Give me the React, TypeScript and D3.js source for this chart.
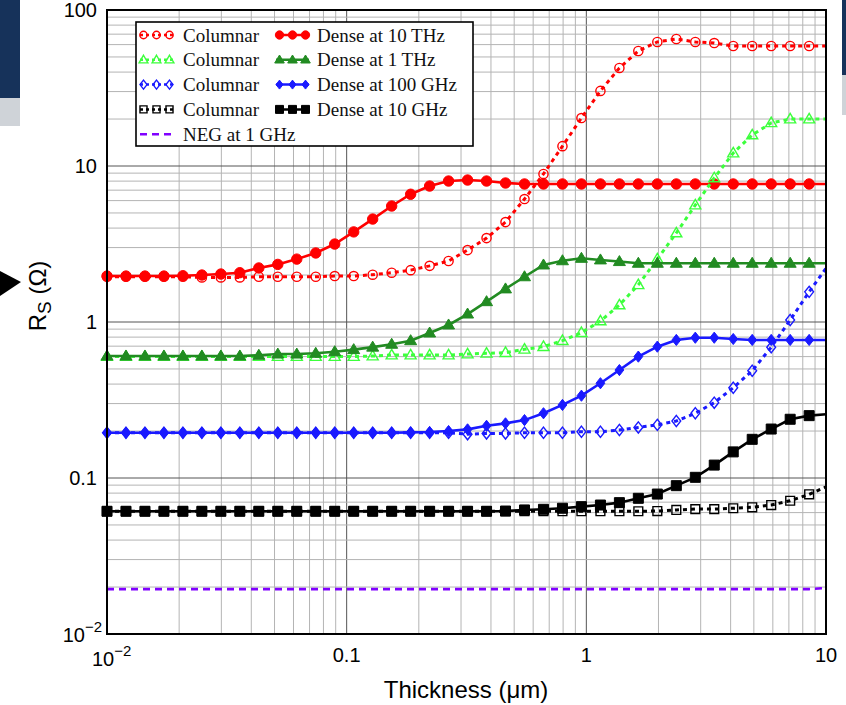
import React, { useEffect, useRef } from "react";
import * as d3 from "d3";

// thickness grid (um) of the computed points; last point has no marker
const thickness = [
  0.01, 0.012, 0.0144, 0.01728, 0.02074, 0.02488, 0.02986, 0.03583, 0.043, 0.0516,
  0.06192, 0.0743, 0.08916, 0.107, 0.1284, 0.1541, 0.1849, 0.2219, 0.2662, 0.3195,
  0.3834, 0.46, 0.5521, 0.6625, 0.795, 0.954, 1.145, 1.374, 1.648, 1.978,
  2.374, 2.849, 3.418, 4.102, 4.922, 5.907, 7.088, 8.506, 10,
];

const dense10THz = [
  1.97, 1.97, 1.97, 1.97, 1.98, 2.0, 2.03, 2.07, 2.22, 2.34,
  2.53, 2.77, 3.16, 3.78, 4.57, 5.54, 6.59, 7.44, 8.01, 8.13,
  8.01, 7.78, 7.67, 7.67, 7.67, 7.67, 7.67, 7.67, 7.67, 7.67,
  7.67, 7.67, 7.67, 7.67, 7.67, 7.67, 7.67, 7.67, 7.67,
];
const columnar10THz = [
  1.95, 1.95, 1.95, 1.95, 1.95, 1.93, 1.93, 1.93, 1.95, 1.95,
  1.95, 1.95, 1.97, 1.97, 2.01, 2.07, 2.15, 2.29, 2.46, 2.89,
  3.45, 4.37, 6.14, 8.89, 13.4, 20.3, 30.3, 42.5, 54.6, 62.4,
  65.2, 62.4, 61.4, 58.8, 58.8, 58.8, 58.8, 58.8, 58.8,
];
const dense1THz = [
  0.605, 0.605, 0.605, 0.605, 0.605, 0.605, 0.605, 0.605, 0.612, 0.623,
  0.623, 0.63, 0.645, 0.665, 0.69, 0.72, 0.759, 0.85, 0.957, 1.125,
  1.35, 1.63, 1.95, 2.32, 2.47, 2.56, 2.5, 2.44, 2.38, 2.38,
  2.38, 2.38, 2.38, 2.38, 2.38, 2.38, 2.38, 2.38, 2.38,
];
const columnar1THz = [
  0.6, 0.6, 0.6, 0.6, 0.6, 0.6, 0.6, 0.6, 0.6, 0.6,
  0.6, 0.6, 0.6, 0.6, 0.605, 0.614, 0.614, 0.614, 0.614, 0.623,
  0.63, 0.636, 0.668, 0.695, 0.759, 0.854, 1.015, 1.285, 1.73, 2.53,
  3.72, 5.62, 8.38, 12.1, 15.8, 18.9, 20.0, 20.0, 20.0,
];
const dense100GHz = [
  0.195, 0.195, 0.195, 0.195, 0.195, 0.195, 0.195, 0.195, 0.195, 0.195,
  0.195, 0.195, 0.195, 0.195, 0.195, 0.195, 0.196, 0.197, 0.2, 0.205,
  0.216, 0.224, 0.235, 0.26, 0.294, 0.337, 0.405, 0.492, 0.6, 0.695,
  0.767, 0.793, 0.793, 0.778, 0.767, 0.767, 0.767, 0.767, 0.767,
];
const columnar100GHz = [
  0.195, 0.195, 0.195, 0.195, 0.195, 0.195, 0.195, 0.195, 0.195, 0.195,
  0.195, 0.195, 0.195, 0.195, 0.195, 0.195, 0.195, 0.195, 0.195, 0.191,
  0.193, 0.193, 0.195, 0.195, 0.195, 0.198, 0.198, 0.203, 0.211, 0.219,
  0.232, 0.26, 0.304, 0.379, 0.487, 0.689, 1.03, 1.56, 2.21,
];
const dense10GHz = [
  0.0612, 0.0612, 0.0612, 0.0612, 0.0612, 0.0612, 0.0612, 0.0612, 0.0612, 0.0612,
  0.0612, 0.0612, 0.0612, 0.0612, 0.0612, 0.0612, 0.0612, 0.0612, 0.0612, 0.0612,
  0.0612, 0.0614, 0.0624, 0.063, 0.064, 0.0655, 0.0671, 0.0695, 0.0741, 0.0789,
  0.0893, 0.101, 0.121, 0.147, 0.177, 0.206, 0.238, 0.251, 0.256,
];
const columnar10GHz = [
  0.0612, 0.0612, 0.0612, 0.0612, 0.0612, 0.0612, 0.0612, 0.0612, 0.0612, 0.0612,
  0.0612, 0.0612, 0.0612, 0.0612, 0.0612, 0.0612, 0.0612, 0.0612, 0.0612, 0.0612,
  0.0612, 0.0612, 0.0612, 0.0612, 0.0612, 0.0612, 0.0612, 0.0612, 0.0612, 0.0614,
  0.0624, 0.0632, 0.0632, 0.064, 0.0649, 0.0671, 0.0715, 0.0786, 0.0876,
];
const negThickness = [0.01, 8.506, 10];
const neg1GHz = [0.0194, 0.0194, 0.0197];

const yTickLabels = ["100", "10", "1", "0.1"];
const xTickLabels = ["0.1", "1", "10"];

const series = [
  { name: "Columnar", values: columnar10THz, color: "#ff0000", marker: "circle", open: true },
  { name: "Dense at 10 THz", values: dense10THz, color: "#ff0000", marker: "circle", open: false },
  { name: "Columnar", values: columnar1THz, color: "#3cff3c", marker: "triangle", open: true },
  { name: "Dense at 1 THz", values: dense1THz, color: "#228b22", marker: "triangle", open: false },
  { name: "Columnar", values: columnar100GHz, color: "#1a1aff", marker: "diamond", open: true },
  { name: "Dense at 100 GHz", values: dense100GHz, color: "#1a1aff", marker: "diamond", open: false },
  { name: "Columnar", values: columnar10GHz, color: "#000000", marker: "square", open: true },
  { name: "Dense at 10 GHz", values: dense10GHz, color: "#000000", marker: "square", open: false },
];

const W = 846;
const H = 705;

// draws one marker into a selection
const addMarker = (g, kind, cx, cy, color, open, s = 1) => {
  const fill = open ? "none" : color;
  const sw = open ? 1.4 : 1;
  if (kind === "circle") {
    g.append("circle").attr("cx", cx).attr("cy", cy).attr("r", (open ? 4.6 : 5.2) * s)
      .attr("fill", fill).attr("stroke", color).attr("stroke-width", sw);
    return;
  }
  let pts;
  if (kind === "triangle") {
    const w = (open ? 11 : 12) * s, h = (open ? 9.5 : 10) * s;
    pts = [[cx, cy - h * 0.6], [cx + w / 2, cy + h * 0.4], [cx - w / 2, cy + h * 0.4]];
  } else if (kind === "diamond") {
    const w = 4.4 * s, h = 5.6 * s;
    pts = [[cx, cy - h], [cx + w, cy], [cx, cy + h], [cx - w, cy]];
  } else {
    const a = (open ? 4.4 : 5) * s;
    pts = [[cx - a, cy - a], [cx + a, cy - a], [cx + a, cy + a], [cx - a, cy + a]];
  }
  g.append("polygon").attr("points", pts.map((p) => p.join(",")).join(" "))
    .attr("fill", fill).attr("stroke", color).attr("stroke-width", sw)
    .attr("stroke-linejoin", "miter");
};

const ThicknessChart = () => {
  const svgRef = useRef(null);

  useEffect(() => {
    const svg = d3.select(svgRef.current);
    svg.selectAll("*").remove();

    const x = d3.scaleLog().domain([0.01, 10]).range([107, 826]);
    const y = d3.scaleLog().domain([0.01, 100]).range([634, 10]);

    // slide background bits around the figure
    svg.append("rect").attr("x", 0).attr("y", 0).attr("width", 20).attr("height", 98).attr("fill", "#16325a");
    svg.append("rect").attr("x", 0).attr("y", 98).attr("width", 20).attr("height", 28).attr("fill", "#cfd3d8");
    svg.append("rect").attr("x", 842).attr("y", 0).attr("width", 4).attr("height", 75).attr("fill", "#16325a");
    svg.append("rect").attr("x", 842).attr("y", 75).attr("width", 4).attr("height", 40).attr("fill", "#cfd3d8");
    svg.append("path").attr("d", "M0,271L21,282L0,296Z").attr("fill", "#000");

    // grid
    const isMajor = (v) => Math.abs(Math.log10(v) - Math.round(Math.log10(v))) < 1e-6;
    const grid = svg.append("g");
    x.ticks().forEach((t) => {
      grid.append("line").attr("x1", x(t)).attr("x2", x(t)).attr("y1", 10).attr("y2", 634)
        .attr("stroke", isMajor(t) ? "#555" : "#b4b4b4").attr("stroke-width", 1);
    });
    y.ticks().forEach((t) => {
      grid.append("line").attr("x1", 107).attr("x2", 826).attr("y1", y(t)).attr("y2", y(t))
        .attr("stroke", isMajor(t) ? "#555" : "#b4b4b4").attr("stroke-width", 1);
    });

    const line = d3.line().x((d) => x(d[0])).y((d) => y(d[1]));

    series.forEach((s) => {
      const pts = thickness.map((t, i) => [t, s.values[i]]);
      const g = svg.append("g");
      g.append("path").attr("d", line(pts)).attr("fill", "none").attr("stroke", s.color)
        .attr("stroke-width", s.open ? 3 : 2.6)
        .attr("stroke-dasharray", s.open ? "4,4" : null);
      pts.slice(0, pts.length - 1).forEach((p) => addMarker(g, s.marker, x(p[0]), y(p[1]), s.color, s.open));
    });

    svg.append("path").attr("d", line(negThickness.map((t, i) => [t, neg1GHz[i]])))
      .attr("fill", "none").attr("stroke", "#8000ff").attr("stroke-width", 2.6)
      .attr("stroke-dasharray", "7,5");

    // frame
    svg.append("rect").attr("x", 107).attr("y", 10).attr("width", 719).attr("height", 624)
      .attr("fill", "none").attr("stroke", "#000").attr("stroke-width", 2);

    // tick labels
    const sans = "'Liberation Sans', Arial, sans-serif";
    const yt = svg.append("g").attr("font-family", sans).attr("font-size", 20).attr("fill", "#000");
    yTickLabels.forEach((l) => {
      yt.append("text").attr("x", 97).attr("y", y(+l)).attr("dy", "0.35em").attr("text-anchor", "end").text(l);
    });
    const ysup = yt.append("text").attr("x", 102).attr("y", 634).attr("dy", "0.4em").attr("text-anchor", "end");
    ysup.append("tspan").text("10");
    ysup.append("tspan").attr("dy", -10).attr("font-size", 15).text("\u22122");

    xTickLabels.forEach((l) => {
      yt.append("text").attr("x", x(+l)).attr("y", 662).attr("text-anchor", "middle").text(l);
    });
    const xsup = yt.append("text").attr("x", 92).attr("y", 666);
    xsup.append("tspan").text("10");
    xsup.append("tspan").attr("dy", -10).attr("font-size", 15).text("\u22122");

    // axis titles
    svg.append("text").attr("x", 466).attr("y", 698).attr("text-anchor", "middle")
      .attr("font-family", sans).attr("font-size", 24).text("Thickness (\u03bcm)");
    const yTitle = svg.append("text").attr("transform", "translate(46,296) rotate(-90)")
      .attr("text-anchor", "middle").attr("font-family", sans).attr("font-size", 24);
    yTitle.append("tspan").text("R");
    yTitle.append("tspan").attr("dy", 5).attr("font-size", 19).text("S");
    yTitle.append("tspan").attr("dy", -5).text(" (\u03a9)");

    // legend
    const lg = svg.append("g");
    lg.append("rect").attr("x", 136).attr("y", 22).attr("width", 337).attr("height", 124)
      .attr("fill", "#fff").attr("stroke", "#000").attr("stroke-width", 1.6);
    const serif = "'Liberation Serif', 'Times New Roman', serif";
    series.forEach((s, i) => {
      const row = Math.floor(i / 2);
      const col = i % 2;
      const cy = 35 + row * 24.8;
      const x0 = col === 0 ? 140 : 276;
      lg.append("line").attr("x1", x0).attr("x2", x0 + 33).attr("y1", cy).attr("y2", cy)
        .attr("stroke", s.color).attr("stroke-width", 2.5)
        .attr("stroke-dasharray", s.open ? "3,3" : null);
      [x0 + 3.5, x0 + 16.5, x0 + 29.5].forEach((mx) => addMarker(lg, s.marker, mx, cy, s.color, s.open, 0.8));
      lg.append("text").attr("x", col === 0 ? 183 : 317).attr("y", cy).attr("dy", "0.35em")
        .attr("font-family", serif).attr("font-size", 19).attr("fill", "#111").text(s.name);
    });
    const negY = 35 + 4 * 24.8;
    lg.append("line").attr("x1", 140).attr("x2", 171).attr("y1", negY).attr("y2", negY)
      .attr("stroke", "#8000ff").attr("stroke-width", 2.6).attr("stroke-dasharray", "7,5");
    lg.append("text").attr("x", 183).attr("y", negY).attr("dy", "0.35em")
      .attr("font-family", serif).attr("font-size", 19).attr("fill", "#111").text("NEG at 1 GHz");
  }, []);

  return <svg ref={svgRef} width={W} height={H} style={{ display: "block", background: "#fff" }}></svg>;
};

export default function App() {
  return (
    <div style={{ position: "absolute", left: 0, top: 0, width: W, height: H, background: "#fff" }}>
      <ThicknessChart />
    </div>
  );
}
